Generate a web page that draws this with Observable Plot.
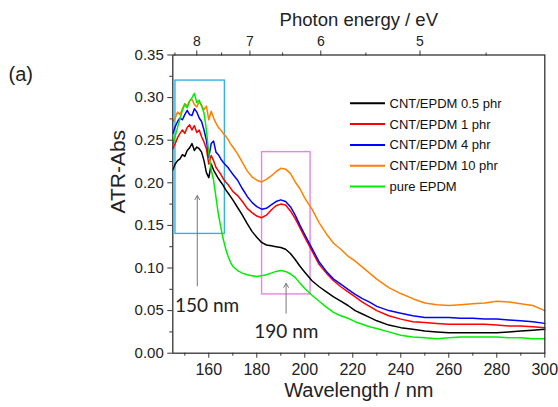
<!DOCTYPE html>
<html>
<head>
<meta charset="utf-8">
<script src="https://cdn.jsdelivr.net/npm/d3@7"></script>
<script src="https://cdn.jsdelivr.net/npm/@observablehq/plot@0.6"></script>
<style>
  html, body { margin: 0; padding: 0; background: #fff; }
  #chart svg { display: block; }
</style>
</head>
<body>
<div id="chart"></div>
<script>
// ---- data ----
const wavelength = [145,146,147,148,149,150,151,152,153,154,155,156,157,158,159,160,161,162,163,164,165,166,167,168,169,170,
  172,174,176,178,180,182,184,186,188,190,192,194,196,198,200,
  203,206,209,212,215,218,221,224,227,230,
  235,240,245,250,255,260,265,270,275,280,285,290,295,300];

const cnt05 = [0.215,0.222,0.226,0.228,0.233,0.231,0.238,0.241,0.246,0.238,0.242,0.240,0.236,0.226,0.212,0.206,0.222,0.215,0.210,0.205,0.201,0.197,0.192,0.188,0.184,0.180,
  0.171,0.162,0.152,0.143,0.136,0.130,0.127,0.126,0.125,0.124,0.122,0.117,0.110,0.102,0.095,
  0.085,0.078,0.072,0.066,0.061,0.056,0.050,0.046,0.042,0.038,
  0.033,0.030,0.028,0.026,0.025,0.024,0.024,0.024,0.024,0.024,0.025,0.026,0.027,0.028];

const cnt1 = [0.240,0.246,0.253,0.258,0.262,0.258,0.265,0.268,0.262,0.267,0.259,0.262,0.254,0.248,0.240,0.222,0.232,0.226,0.218,0.214,0.210,0.205,0.201,0.198,0.194,0.190,
  0.185,0.178,0.170,0.165,0.161,0.159,0.162,0.168,0.173,0.175,0.174,0.167,0.158,0.147,0.136,
  0.120,0.104,0.094,0.085,0.078,0.072,0.066,0.060,0.055,0.050,
  0.044,0.040,0.037,0.036,0.035,0.034,0.034,0.034,0.034,0.033,0.032,0.032,0.031,0.030];

const cnt4 = [0.258,0.266,0.272,0.276,0.274,0.280,0.285,0.280,0.279,0.287,0.283,0.276,0.272,0.262,0.250,0.230,0.246,0.249,0.236,0.233,0.228,0.224,0.221,0.218,0.214,0.210,
  0.203,0.193,0.184,0.177,0.172,0.169,0.170,0.174,0.178,0.180,0.178,0.172,0.162,0.150,0.139,
  0.123,0.107,0.096,0.087,0.081,0.075,0.069,0.064,0.060,0.055,
  0.050,0.047,0.044,0.042,0.042,0.042,0.041,0.041,0.040,0.040,0.039,0.038,0.037,0.035];

const cnt10 = [0.272,0.276,0.283,0.280,0.287,0.293,0.290,0.296,0.298,0.292,0.289,0.295,0.291,0.286,0.290,0.274,0.284,0.276,0.270,0.265,0.262,0.258,0.255,0.251,0.246,0.242,
  0.234,0.224,0.214,0.207,0.203,0.201,0.204,0.208,0.213,0.217,0.216,0.211,0.201,0.193,0.182,
  0.169,0.153,0.140,0.129,0.122,0.114,0.108,0.101,0.094,0.087,
  0.077,0.070,0.064,0.059,0.057,0.056,0.057,0.058,0.059,0.061,0.060,0.058,0.056,0.050];

const pureEPDM = [0.245,0.255,0.265,0.275,0.285,0.292,0.288,0.296,0.300,0.305,0.294,0.297,0.290,0.282,0.262,0.235,0.215,0.203,0.183,0.163,0.148,0.134,0.123,0.114,0.107,0.102,
  0.097,0.094,0.092,0.091,0.090,0.091,0.092,0.094,0.096,0.097,0.096,0.093,0.089,0.082,0.076,
  0.068,0.061,0.054,0.048,0.044,0.041,0.037,0.034,0.031,0.029,
  0.025,0.021,0.019,0.018,0.017,0.018,0.019,0.019,0.019,0.019,0.018,0.018,0.017,0.017];

const seriesNames = ["CNT/EPDM 0.5 phr", "CNT/EPDM 1 phr", "CNT/EPDM 4 phr", "CNT/EPDM 10 phr", "pure EPDM"];
const seriesColors = ["#000000", "#ff0000", "#0000ff", "#ff8000", "#00ee00"];
const seriesValues = [cnt05, cnt1, cnt4, cnt10, pureEPDM];

const xTicksMajor = [160, 180, 200, 220, 240, 260, 280, 300];
const xTicksMinor = [150, 170, 190, 210, 230, 250, 270, 290];
const yTicksMajor = [0, 0.05, 0.10, 0.15, 0.20, 0.25, 0.30, 0.35];
const yTicksMinor = [0.025, 0.075, 0.125, 0.175, 0.225, 0.275, 0.325];
const energyMajor = [8, 7, 6, 5];
const energyMinor = [8.5, 7.5, 6.5, 5.5, 4.5];

const boxX1 = [146.1, 182.2];
const boxX2 = [166.7, 202.4];
const boxY1 = [0.140, 0.069];
const boxY2 = [0.320, 0.236];
const boxColors = ["#2fb2e6", "#e884e2"];

const arrowX = [155.2, 192.2];
const arrowFrom = [0.079, 0.047];
const arrowTo = [0.185, 0.082];

const noteText = ["150 nm", "190 nm"];
const noteX = [159.3, 192.3];
const noteY = [0.056, 0.0247];

// ---- build tables ----
const rows = seriesNames.flatMap((s, i) => wavelength.map((w, j) => ({series: s, wl: w, abs: seriesValues[i][j]})));
const boxes = boxX1.map((_, i) => ({x1: boxX1[i], x2: boxX2[i], y1: boxY1[i], y2: boxY2[i], c: boxColors[i]}));
const arrows = arrowX.map((x, i) => ({x, y1: arrowFrom[i], y2: arrowTo[i]}));
const notes = noteText.map((t, i) => ({t, x: noteX[i], y: noteY[i]}));

const W = 558, H = 407;
const mL = 172.3, mR = 13.7, mT = 54.5, mB = 54.3;
const axisColor = "#333";

function legendMark() {
  const g = d3.create("svg:g")
    .attr("font-family", "'Liberation Sans', Arial, sans-serif")
    .attr("font-size", 13)
    .attr("text-anchor", "start");
  const x0 = 350, x1 = 385, xt = 389.5, y0 = 103.3, step = 20.8;
  seriesNames.forEach((name, i) => {
    const y = y0 + i * step;
    g.append("line").attr("x1", x0).attr("x2", x1).attr("y1", y).attr("y2", y)
      .attr("stroke", seriesColors[i]).attr("stroke-width", 2);
    g.append("text").attr("x", xt).attr("y", y).attr("dy", "0.35em")
      .attr("text-anchor", "start").attr("fill", "#111").text(name);
  });
  return g.node();
}

const chart = Plot.plot({
  width: W, height: H,
  marginLeft: mL, marginRight: mR, marginTop: mT, marginBottom: mB,
  style: {fontFamily: "'Liberation Sans', Arial, sans-serif", background: "#fff", color: "#222"},
  x: {domain: [145, 300]},
  y: {domain: [0, 0.35]},
  color: {domain: seriesNames, range: seriesColors},
  marks: [
    Plot.rect(boxes, {x1: "x1", x2: "x2", y1: "y1", y2: "y2", stroke: "c", fill: "none", strokeWidth: 1.4}),
    Plot.line(rows, {x: "wl", y: "abs", z: "series", stroke: "series", strokeWidth: 1.5}),
    Plot.arrow(arrows, {x: "x", y1: "y1", y2: "y2", stroke: "#777", strokeWidth: 1, headLength: 7, bend: 0}),
    Plot.text(notes, {x: "x", y: "y", text: "t", fontFamily: "Lato, 'Open Sans', sans-serif", fontSize: 19, fill: "#222"}),
    Plot.axisX(xTicksMajor, {anchor: "bottom", tickSize: 5, tickPadding: 5, fontSize: 16, stroke: axisColor, tickFormat: d => String(d), label: null}),
    Plot.axisX(xTicksMinor, {anchor: "bottom", tickSize: 3, stroke: axisColor, tickFormat: () => "", label: null}),
    Plot.axisX(energyMajor.map(e => 1240 / e), {anchor: "top", tickSize: 5, tickPadding: 4, fontSize: 14, stroke: axisColor, tickFormat: d => String(Math.round(1240 / d)), label: null}),
    Plot.axisX(energyMinor.map(e => 1240 / e), {anchor: "top", tickSize: 3, stroke: axisColor, tickFormat: () => "", label: null}),
    Plot.axisY(yTicksMajor, {anchor: "left", tickSize: 5, tickPadding: 4, fontSize: 15, stroke: axisColor, tickFormat: d => d.toFixed(2), label: null}),
    Plot.axisY(yTicksMinor, {anchor: "left", tickSize: 3, stroke: axisColor, tickFormat: () => "", label: null}),
    Plot.frame({stroke: axisColor, strokeWidth: 1.3}),
    Plot.text(["Wavelength / nm"], {frameAnchor: "bottom", dy: 44, fontSize: 20, fill: "#222"}),
    Plot.text(["Photon energy / eV"], {frameAnchor: "top", dy: -42, fontSize: 18.5, fill: "#222"}),
    Plot.text(["ATR-Abs"], {frameAnchor: "left", dx: -54.3, dy: 9.4, rotate: -90, fontSize: 21, fill: "#222"}),
    Plot.text(["(a)"], {frameAnchor: "top-left", dx: -164.3, dy: 12, textAnchor: "start", fontSize: 20, fill: "#222"}),
    legendMark
  ]
});
document.getElementById("chart").appendChild(chart);
</script>
</body>
</html>
